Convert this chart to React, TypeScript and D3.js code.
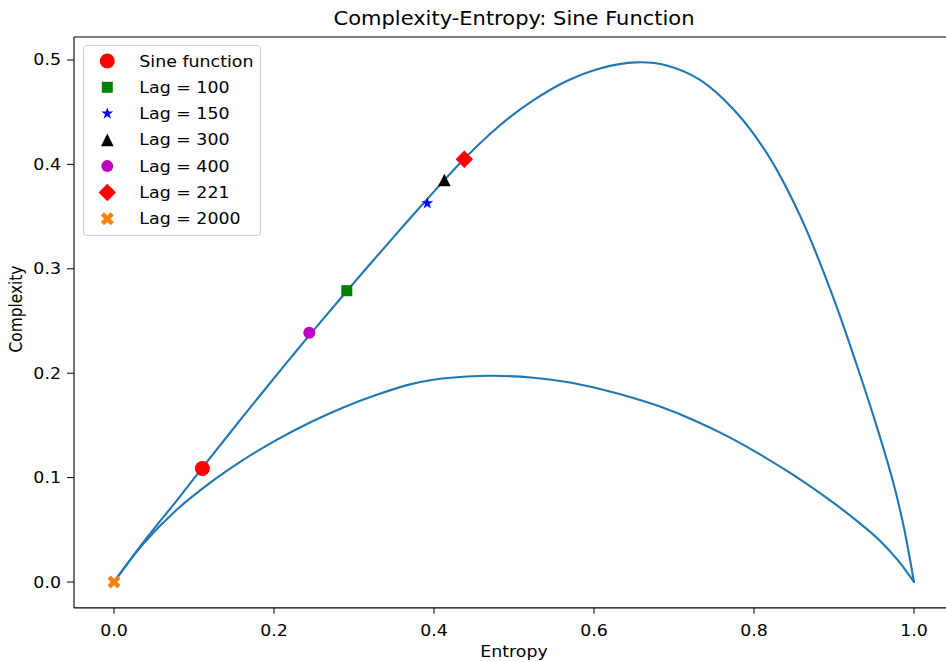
import React from "react";
import * as d3 from "d3";

// ---- data ----
const upperEntropy = [0, 0.0366, 0.0784, 0.1105, 0.1616, 0.2159, 0.2441, 0.291, 0.35, 0.39, 0.4379, 0.4825, 0.524, 0.566, 0.6075, 0.653, 0.6908, 0.7325, 0.774, 0.8158, 0.8575, 0.899, 0.9325, 0.953, 0.974, 0.9866, 1.0];
const upperComplexity = [0, 0.038, 0.078, 0.1095, 0.1588, 0.2101, 0.2362, 0.2786, 0.3308, 0.3654, 0.4054, 0.4375, 0.4612, 0.4798, 0.4919, 0.4977, 0.4948, 0.481, 0.453, 0.411, 0.351, 0.2727, 0.1985, 0.150, 0.0955, 0.055, 0];

const lowerEntropy = [0, 0.0366, 0.0784, 0.12, 0.1616, 0.2034, 0.245, 0.2866, 0.3284, 0.37, 0.3991, 0.4409, 0.4741, 0.5241, 0.5659, 0.6075, 0.6491, 0.6825, 0.7241, 0.7659, 0.8075, 0.8491, 0.8909, 0.9325, 0.9575, 0.98, 1.0];
const lowerComplexity = [0, 0.0366, 0.0692, 0.095, 0.117, 0.1362, 0.1528, 0.1672, 0.1793, 0.1893, 0.1938, 0.1968, 0.1975, 0.1957, 0.1915, 0.1848, 0.1762, 0.168, 0.1552, 0.14, 0.1222, 0.1025, 0.0805, 0.0562, 0.0395, 0.0207, 0];

const markerLabels = ["Sine function", "Lag = 100", "Lag = 150", "Lag = 300", "Lag = 400", "Lag = 221", "Lag = 2000"];
const markerEntropy = [0.1105, 0.291, 0.3916, 0.4129, 0.2441, 0.4379, 0];
const markerComplexity = [0.1087, 0.279, 0.3627, 0.3851, 0.2388, 0.4049, 0];
const markerShapes = ["circle", "square", "star", "triangle", "circleSmall", "diamond", "x"];
const markerColors = ["#ff0000", "#008000", "#0000ff", "#000000", "#bf00bf", "#ff0000", "#ff7f0e"];

const xTicks = [0, 0.2, 0.4, 0.6, 0.8, 1.0];
const yTicks = [0, 0.1, 0.2, 0.3, 0.4, 0.5];

const titleText = "Complexity-Entropy: Sine Function";
const xLabel = "Entropy";
const yLabel = "Complexity";

// ---- layout ----
const W = 946, H = 662;
const left = 74, right = 954, top = 37, bottom = 607.9;
const SX = 1.13;
const FONT = "DejaVu Sans";
const FS = 15.4;

const x = d3.scaleLinear().domain([-0.05, 1.05]).range([left, right]);
const y = d3.scaleLinear().domain([-0.0248, 0.522]).range([bottom, top]);

function markerPath(shape: string): string {
  switch (shape) {
    case "circle": return d3.symbol(d3.symbolCircle, Math.PI * 7.5 * 7.5)()!;
    case "circleSmall": return d3.symbol(d3.symbolCircle, Math.PI * 6 * 6)()!;
    case "square": return d3.symbol(d3.symbolSquare, 11 * 11)()!;
    case "star": return d3.symbol(d3.symbolStar, 6.3 * 6.3 / 0.8908130915292852)()!;
    case "triangle": {
      const p = d3.path();
      p.moveTo(0, -6.3); p.lineTo(6.3, 6.3); p.lineTo(-6.3, 6.3); p.closePath();
      return p.toString();
    }
    case "diamond": return d3.symbol(d3.symbolSquare, 12.4 * 12.4)()!;
    case "x": return d3.symbol(d3.symbolCross, 5 * (2 * 2.3) * (2 * 2.3))()!;
  }
  return "";
}
const rotated = (shape: string) => shape === "diamond" || shape === "x";

function Marker({ cx, cy, i }: { cx: number; cy: number; i: number }) {
  const s = markerShapes[i];
  return (
    <path
      d={markerPath(s)}
      transform={`translate(${cx},${cy})${rotated(s) ? " rotate(45)" : ""}`}
      fill={markerColors[i]}
    />
  );
}

function T({ x: tx, y: ty, anchor = "start", size = FS, rot = 0, children }: any) {
  return (
    <g transform={`translate(${tx},${ty}) scale(${SX},1)${rot ? ` rotate(${rot})` : ""}`}>
      <text x={0} y={0} textAnchor={anchor} fontFamily={FONT} fontSize={size} fill="#000">
        {children}
      </text>
    </g>
  );
}

export default function App() {
  const upperPts = upperEntropy.map((h, i) => [x(h), y(upperComplexity[i])] as [number, number]);
  const lowerPts = lowerEntropy.map((h, i) => [x(h), y(lowerComplexity[i])] as [number, number]);
  const lineGen = d3.line().curve(d3.curveCatmullRom.alpha(0.5));

  const legendX = 83.5, legendY = 45.5, legendW = 177, legendH = 190;
  const rowY0 = 61, rowDy = 26.28;

  return (
    <div style={{ position: "absolute", left: 0, top: 0, width: W, height: H, background: "#fff" }}>
      <svg width={W} height={H} viewBox={`0 0 ${W} ${H}`} style={{ display: "block" }}>
        <rect x={0} y={0} width={W} height={H} fill="#fff" />
        <defs>
          <clipPath id="plotclip">
            <rect x={left} y={top} width={right - left} height={bottom - top} />
          </clipPath>
        </defs>

        {/* curves */}
        <g clipPath="url(#plotclip)">
          <path d={lineGen(upperPts)!} fill="none" stroke="#1f77b4" strokeWidth={2.1} strokeLinejoin="round" strokeLinecap="round" />
          <path d={lineGen(lowerPts)!} fill="none" stroke="#1f77b4" strokeWidth={2.1} strokeLinejoin="round" strokeLinecap="round" />
          {markerLabels.map((_, i) => (
            <Marker key={i} cx={x(markerEntropy[i])} cy={y(markerComplexity[i])} i={i} />
          ))}
        </g>

        {/* spines */}
        <g stroke="#000" strokeWidth={1.1} fill="none">
          <line x1={left} x2={left} y1={top} y2={bottom} />
          <line x1={left} x2={right} y1={top} y2={top} />
          <line x1={left} x2={right} y1={bottom} y2={bottom} />
          <line x1={right} x2={right} y1={top} y2={bottom} />
        </g>

        {/* x ticks */}
        {xTicks.map((t) => (
          <g key={"x" + t}>
            <line x1={x(t)} x2={x(t)} y1={bottom} y2={bottom + 6} stroke="#000" strokeWidth={1} />
            <T x={x(t)} y={636} anchor="middle">{t.toFixed(1)}</T>
          </g>
        ))}
        {/* y ticks */}
        {yTicks.map((t) => (
          <g key={"y" + t}>
            <line x1={left - 7} x2={left} y1={y(t)} y2={y(t)} stroke="#000" strokeWidth={1} />
            <T x={61} y={y(t) + 5.5} anchor="end">{t.toFixed(1)}</T>
          </g>
        ))}

        {/* labels */}
        <T x={(left + right) / 2} y={25} anchor="middle" size={18.6}>{titleText}</T>
        <T x={(left + right) / 2} y={657} anchor="middle">{xLabel}</T>
        <T x={21.5} y={309} anchor="middle" rot={-90}>{yLabel}</T>

        {/* legend */}
        <rect x={legendX} y={legendY} width={legendW} height={legendH} rx={3} ry={3}
          fill="#fff" fillOpacity={0.8} stroke="#cccccc" strokeWidth={1} />
        {markerLabels.map((lab, i) => (
          <g key={"lg" + i}>
            <Marker cx={107.3} cy={rowY0 + i * rowDy} i={i} />
            <T x={139.3} y={rowY0 + i * rowDy + 5.5}>{lab}</T>
          </g>
        ))}
      </svg>
    </div>
  );
}
